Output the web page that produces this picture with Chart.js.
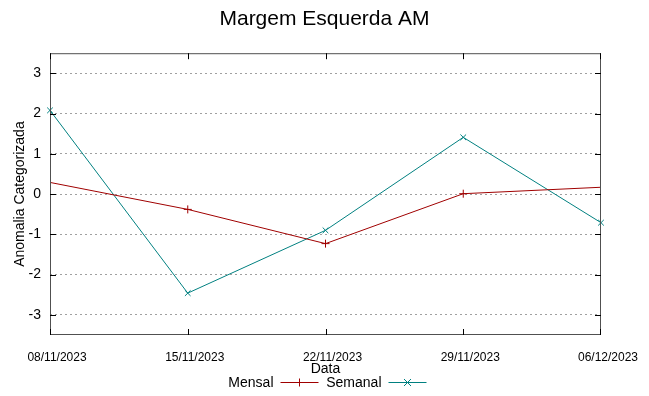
<!DOCTYPE html>
<html>
<head>
<meta charset="utf-8">
<script src="https://cdn.jsdelivr.net/npm/chart.js@4"></script>
<style>
  html, body { margin: 0; padding: 0; background: #fff; }
  #wrap { width: 649px; height: 396px; }
</style>
</head>
<body>
<div id="wrap"><canvas id="chart" width="649" height="396"></canvas></div>
<script>
// ── data ────────────────────────────────────
const DATES   = ['08/11/2023', '15/11/2023', '22/11/2023', '29/11/2023', '06/12/2023'];
const MENSAL  = [0.29, -0.38, -1.23, 0.01, 0.17];
const SEMANAL = [2.08, -2.46, -0.90, 1.41, -0.71];
const Y_TICKS = [-3, -2, -1, 0, 1, 2, 3];

const RED  = '#a00000';
const TEAL = '#008080';
const FONT = '"Liberation Sans", Arial, sans-serif';

// gnuplot-ish frame: border + inward tick marks on all four sides, plus legend
const framePlugin = {
  id: 'frame',
  afterDraw(chart) {
    const { ctx, chartArea: a, scales } = chart;
    ctx.save();
    ctx.strokeStyle = '#505050';
    ctx.lineWidth = 1;
    ctx.strokeRect(a.left + 0.5, a.top + 0.5, a.right - a.left - 1, a.bottom - a.top - 1);

    ctx.strokeStyle = '#000';
    ctx.beginPath();
    scales.y.ticks.forEach(t => {
      const y = Math.round(scales.y.getPixelForValue(t.value)) + 0.5;
      ctx.moveTo(a.left, y);  ctx.lineTo(a.left + 6, y);
      ctx.moveTo(a.right, y); ctx.lineTo(a.right - 6, y);
    });
    DATES.forEach((d, i) => {
      const x = Math.min(a.right - 0.5, Math.round(scales.x.getPixelForValue(i)) + 0.5);
      ctx.moveTo(x, a.bottom); ctx.lineTo(x, a.bottom - 6);
      ctx.moveTo(x, a.top);    ctx.lineTo(x, a.top + 6);
    });
    ctx.stroke();

    // legend: text then sample (gnuplot style)
    const mid = (a.left + a.right) / 2;
    const ly = 382.5;
    ctx.font = '14px ' + FONT;
    ctx.fillStyle = '#000';
    ctx.textAlign = 'right';
    ctx.textBaseline = 'middle';
    const items = [
      { label: chart.data.datasets[0].label, color: RED,  style: 'cross',    x: mid - 52 },
      { label: chart.data.datasets[1].label, color: TEAL, style: 'crossRot', x: mid + 56 }
    ];
    items.forEach(it => {
      ctx.fillText(it.label, it.x, ly + 1);
      ctx.strokeStyle = it.color;
      ctx.beginPath();
      ctx.moveTo(it.x + 7, ly); ctx.lineTo(it.x + 45, ly);
      ctx.stroke();
      const cx = it.x + 26;
      ctx.beginPath();
      if (it.style === 'cross') {
        ctx.moveTo(cx - 4, ly); ctx.lineTo(cx + 4, ly);
        ctx.moveTo(cx, ly - 4); ctx.lineTo(cx, ly + 4);
      } else {
        ctx.moveTo(cx - 3.5, ly - 3.5); ctx.lineTo(cx + 3.5, ly + 3.5);
        ctx.moveTo(cx - 3.5, ly + 3.5); ctx.lineTo(cx + 3.5, ly - 3.5);
      }
      ctx.stroke();
    });
    ctx.restore();
  }
};

new Chart(document.getElementById('chart'), {
  type: 'line',
  data: {
    labels: DATES,
    datasets: [
      {
        label: 'Mensal',
        data: MENSAL,
        borderColor: RED,
        backgroundColor: RED,
        borderWidth: 1,
        pointStyle: 'cross',
        pointRadius: [0, 4, 4, 4, 0],
        pointBorderWidth: 1,
        tension: 0,
        clip: false
      },
      {
        label: 'Semanal',
        data: SEMANAL,
        borderColor: TEAL,
        backgroundColor: TEAL,
        borderWidth: 1,
        pointStyle: 'crossRot',
        pointRadius: 4,
        pointBorderWidth: 1,
        tension: 0,
        clip: false
      }
    ]
  },
  options: {
    responsive: false,
    animation: false,
    devicePixelRatio: 1,
    layout: { padding: 0 },
    plugins: {
      legend: { display: false },
      tooltip: { enabled: false },
      title: {
        display: true,
        text: 'Margem Esquerda AM',
        color: '#000',
        font: { family: FONT, size: 21, weight: 'normal' },
        padding: { top: 7, bottom: 21 }
      }
    },
    scales: {
      x: {
        offset: false,
        grid: { display: false, drawTicks: false },
        border: { display: false },
        ticks: {
          autoSkip: false,
          maxRotation: 0,
          color: '#000',
          padding: 15,
          labelOffset: 7,
          font: { family: FONT, size: 12 }
        },
        title: {
          display: true,
          text: 'Data',
          color: '#000',
          font: { family: FONT, size: 14 },
          padding: { top: 0, bottom: 18 }
        },
        afterFit: s => { s.height = 61; }
      },
      y: {
        min: -3.5,
        max: 3.5,
        afterBuildTicks: s => { s.ticks = Y_TICKS.map(v => ({ value: v })); },
        grid: { color: '#a0a0a0', drawTicks: false, lineWidth: 1 },
        border: { display: false, dash: [2, 3] },
        ticks: {
          color: '#000',
          padding: 9,
          font: { family: FONT, size: 14 }
        },
        title: {
          display: true,
          text: 'Anomalia Categorizada',
          color: '#000',
          font: { family: FONT, size: 14 },
          padding: { top: 12, bottom: 0 }
        },
        afterFit: s => { s.width = 50; }
      },
      // empty right-hand margin so the title centres on the whole canvas
      margin: {
        type: 'linear',
        position: 'right',
        grid: { display: false, drawTicks: false },
        border: { display: false },
        ticks: { display: false },
        afterFit: s => { s.width = 48; }
      }
    }
  },
  plugins: [framePlugin]
});
</script>
</body>
</html>
